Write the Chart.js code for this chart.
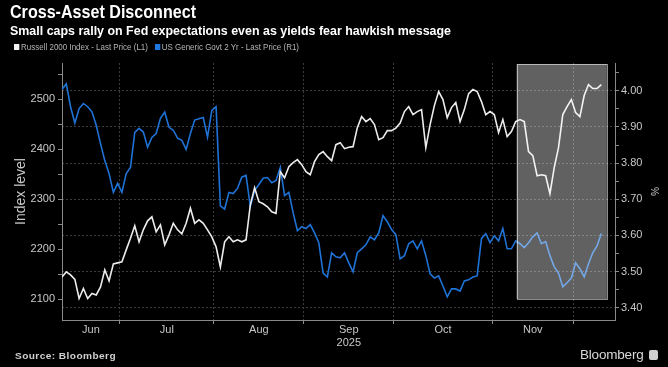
<!DOCTYPE html>
<html>
<head>
<meta charset="utf-8">
<script src="https://cdn.jsdelivr.net/npm/chart.js@4.4.1/dist/chart.umd.min.js"></script>
<style>
html, body { margin: 0; padding: 0; background: #000; }
body { width: 668px; height: 367px; position: relative; overflow: hidden; font-family: "Liberation Sans", Arial, sans-serif; }
#chart { position: absolute; left: 0; top: 0; }
.fit { position: absolute; white-space: nowrap; transform-origin: 0 0; }
.title { left: 10px; top: 1px; color: #fff; font: bold 19px "Liberation Sans Narrow", "Liberation Sans", sans-serif; }
.subtitle { left: 10px; top: 23px; color: #fff; font: bold 13.5px "Liberation Sans", sans-serif; }
.legend { left: 14px; top: 42px; color: #b5b5b5; font: 9px "Liberation Sans Narrow", "Liberation Sans", sans-serif; }
.legend i { display: inline-block; width: 6px; height: 6px; margin-right: 2px; vertical-align: 0; }
.source { left: 15px; top: 350px; color: #d0d0d0; font: bold 9.5px "Liberation Sans", sans-serif; letter-spacing: 0.4px; }
.logo { left: 580px; top: 347px; color: #d8d8d8; font: 13.5px "Liberation Sans", sans-serif; letter-spacing: -0.2px; }
.logo b { display: inline-block; width: 9px; height: 10px; background: #cfcfcf; border-radius: 2px; margin-left: 5px; vertical-align: -1px; }
</style>
</head>
<body>
<canvas id="chart" width="668" height="367"></canvas>
<div class="fit title" data-w="186">Cross-Asset Disconnect</div>
<div class="fit subtitle" data-w="441">Small caps rally on Fed expectations even as yields fear hawkish message</div>
<div class="fit legend" data-w="285"><i style="background:#f2f2f2"></i>Russell 2000 Index - Last Price (L1)&nbsp;&nbsp;&nbsp;<i style="background:#1f78e0"></i>US Generic Govt 2 Yr - Last Price (R1)</div>
<div class="fit source" data-w="101">Source: Bloomberg</div>
<div class="fit logo">Bloomberg<b></b></div>
<script>
// one value per trading day, mid-Jun 2025 to early Dec 2025
const russell = [
  2145, 2155, 2149, 2140, 2102, 2122, 2102, 2112, 2109, 2125,
  2159, 2137, 2171, 2173, 2175, 2199, 2222, 2247, 2215, 2239,
  2257, 2265, 2235, 2249, 2209, 2229, 2252, 2239, 2231, 2252,
  2282, 2252, 2259, 2252, 2239, 2225, 2205, 2165, 2215, 2225,
  2215, 2219, 2215, 2219, 2289, 2323, 2295, 2291, 2285, 2275,
  2272, 2355, 2343, 2365, 2373, 2379, 2369, 2355, 2349, 2375,
  2389, 2395, 2385, 2377, 2409, 2413, 2401, 2404, 2405, 2443,
  2465, 2455, 2461, 2449, 2419, 2423, 2437, 2437, 2442, 2452,
  2475, 2485, 2469, 2475, 2479, 2403, 2449, 2487, 2515, 2499,
  2463, 2483, 2493, 2455, 2479, 2511, 2519, 2515, 2495, 2469,
  2475, 2469, 2433, 2459, 2425, 2435, 2455, 2459, 2455, 2395,
  2387, 2347, 2349, 2347, 2311, 2363, 2403, 2469, 2485, 2499,
  2473, 2465, 2507, 2529, 2521, 2521, 2529
];
const yield2y = [
  4.004, 4.019, 3.956, 3.911, 3.951, 3.965, 3.956, 3.942, 3.905, 3.854,
  3.807, 3.771, 3.719, 3.744, 3.719, 3.771, 3.788, 3.885, 3.896, 3.886,
  3.844, 3.871, 3.882, 3.924, 3.941, 3.899, 3.891, 3.869, 3.863, 3.838,
  3.882, 3.919, 3.923, 3.926, 3.872, 3.946, 3.956, 3.682, 3.673, 3.719,
  3.716, 3.730, 3.761, 3.766, 3.680, 3.724, 3.741, 3.758, 3.760, 3.746,
  3.752, 3.788, 3.710, 3.719, 3.663, 3.613, 3.624, 3.619, 3.630, 3.607,
  3.580, 3.496, 3.485, 3.552, 3.541, 3.538, 3.552, 3.524, 3.499, 3.552,
  3.563, 3.574, 3.596, 3.588, 3.607, 3.655, 3.638, 3.616, 3.602, 3.535,
  3.544, 3.577, 3.585, 3.563, 3.585, 3.544, 3.494, 3.482, 3.488, 3.460,
  3.430, 3.452, 3.452, 3.446, 3.474, 3.477, 3.485, 3.488, 3.591, 3.605,
  3.580, 3.599, 3.585, 3.619, 3.563, 3.563, 3.585, 3.577, 3.566, 3.580,
  3.596, 3.607, 3.577, 3.583, 3.544, 3.513, 3.496, 3.458, 3.469, 3.482,
  3.524, 3.508, 3.485, 3.521, 3.552, 3.571, 3.605
];

const months = ['Jun', 'Jul', 'Aug', 'Sep', 'Oct', 'Nov'];
const monthStart = [0, 14, 36, 57, 78, 101];   // first trading-day index of each month
const decStart = 120;
const dayCount = 129.2;                          // x range incl. space before right axis
const yearLabel = '2025';
const yearUnder = 'Sep';

const leftTicks = [2100, 2150, 2200, 2250, 2300, 2350, 2400, 2450, 2500, 2550];
const rightTicks = [3.40, 3.45, 3.50, 3.55, 3.60, 3.65, 3.70, 3.75, 3.80, 3.85, 3.90, 3.95, 4.00, 4.05];

// shaded highlight (trading-day index span, Russell level span)
const shadeDays = [106.2, 127.3];
const shadeLevels = [2101, 2570];

const tickColor = '#c8c8c8';
const gridColor = '#3c3c3c';
const axisColor = '#8a8a8a';

function fitText() {
  document.querySelectorAll('.fit[data-w]').forEach(node => {
    const w = node.getBoundingClientRect().width;
    node.style.transform = 'scaleX(' + (Number(node.dataset.w) / w) + ')';
  });
}
fitText();

const shade = {
  id: 'shade',
  afterDatasetsDraw(chart) {
    const { ctx, scales } = chart;
    const x0 = scales.x.getPixelForValue(shadeDays[0]);
    const x1 = scales.x.getPixelForValue(shadeDays[1]);
    const y0 = scales.y.getPixelForValue(shadeLevels[1]);
    const y1 = scales.y.getPixelForValue(shadeLevels[0]);
    ctx.save();
    ctx.fillStyle = 'rgba(255,255,255,0.38)';
    ctx.fillRect(x0, y0, x1 - x0, y1 - y0);
    ctx.strokeStyle = 'rgba(255,255,255,0.55)';
    ctx.lineWidth = 1;
    ctx.strokeRect(Math.round(x0) + 0.5, Math.round(y0) + 0.5, Math.round(x1 - x0), Math.round(y1 - y0));
    ctx.restore();
  }
};

function xTicks(scale) {
  const ticks = [];
  for (let i = 0; i < months.length; i++) {
    const a = monthStart[i] === 0 ? 0 : monthStart[i] - 0.5;
    const b = (i + 1 < months.length ? monthStart[i + 1] : decStart) - 0.5;
    if (a > 0) ticks.push({ value: a, boundary: true, text: '' });
    const text = months[i] === yearUnder ? [months[i], yearLabel] : months[i];
    ticks.push({ value: (a + b) / 2, boundary: false, text });
  }
  ticks.push({ value: decStart - 0.5, boundary: true, text: '' });
  scale.ticks = ticks;
}

Chart.defaults.font.family = '"Liberation Sans", Arial, sans-serif';
Chart.defaults.color = tickColor;

new Chart(document.getElementById('chart'), {
  type: 'line',
  data: {
    datasets: [
      {
        label: 'Russell 2000 Index - Last Price (L1)',
        data: russell.map((v, i) => ({ x: i, y: v })),
        yAxisID: 'y',
        borderColor: '#ececec',
        borderWidth: 1.6,
        pointRadius: 0,
        tension: 0,
      },
      {
        label: 'US Generic Govt 2 Yr - Last Price (R1)',
        data: yield2y.map((v, i) => ({ x: i, y: v })),
        yAxisID: 'y1',
        borderColor: '#1f72d6',
        borderWidth: 1.6,
        pointRadius: 0,
        tension: 0,
      },
    ],
  },
  options: {
    responsive: false,
    animation: false,
    layout: { padding: { top: 63, left: 0, right: 0, bottom: 0 } },
    plugins: { legend: { display: false }, tooltip: { enabled: false } },
    scales: {
      x: {
        type: 'linear', min: 0, max: dayCount,
        afterBuildTicks: xTicks,
        afterFit(scale) { scale.height = 47; },
        grid: {
          color: c => (c.tick && c.tick.boundary ? gridColor : 'transparent'),
          tickColor: c => (c.tick && c.tick.boundary ? axisColor : 'transparent'),
          tickLength: 4,
        },
        border: { color: axisColor, dash: [2, 2] },
        ticks: {
          autoSkip: false, maxRotation: 0, padding: -1,
          font: { size: 11 }, color: tickColor,
          callback(v, i, ticks) { return ticks[i].text; },
        },
      },
      y: {
        position: 'left', min: 2059, max: 2572,
        afterBuildTicks(scale) { scale.ticks = leftTicks.map(v => ({ value: v })); },
        afterFit(scale) { scale.width = 62; },
        grid: { drawOnChartArea: false, tickColor: axisColor, tickLength: 4 },
        border: { color: axisColor },
        title: { display: true, text: 'Index level', color: tickColor, font: { size: 14 }, padding: { top: 13, bottom: 0 } },
        ticks: {
          font: { size: 11 }, color: tickColor, padding: 3,
          callback: v => (v % 100 === 0 ? String(v) : ''),
        },
      },
      y1: {
        position: 'right', min: 3.366, max: 4.077,
        afterBuildTicks(scale) { scale.ticks = rightTicks.map(v => ({ value: v })); },
        afterFit(scale) { scale.width = 53; },
        grid: {
          color: c => (c.tick && Math.round(c.tick.value * 100) % 10 === 0 ? gridColor : 'transparent'),
          tickColor: axisColor, tickLength: 4,
        },
        border: { color: axisColor, dash: [2, 2] },
        title: { display: true, text: '%', color: tickColor, font: { size: 10 }, padding: { top: 8, bottom: 0 } },
        ticks: {
          font: { size: 11 }, color: tickColor, padding: 2,
          callback: v => (Math.round(v * 100) % 10 === 0 ? v.toFixed(2) : ''),
        },
      },
    },
  },
  plugins: [shade],
});
</script>
</body>
</html>
